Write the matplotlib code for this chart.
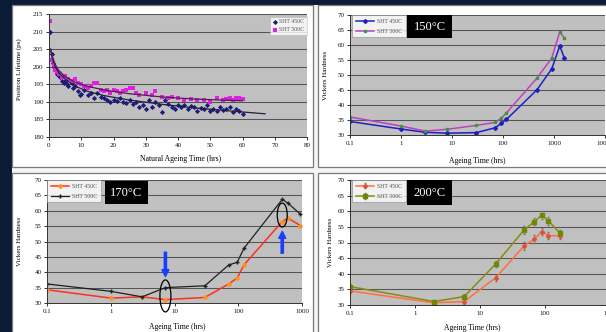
import numpy as np
import matplotlib
matplotlib.use("Agg")
import matplotlib.pyplot as plt
from matplotlib.patches import Rectangle, Ellipse
from matplotlib.transforms import ScaledTranslation
from matplotlib.ticker import NullLocator

W, H = 606, 332
plt.rcParams['font.family'] = ['Liberation Serif', 'DejaVu Serif']

# ---- natural ageing (positron lifetime) ----
na450_t = [0.3, 0.8, 1.2, 1.6, 2.0, 2.5, 3.0, 3.5, 4.0, 4.5, 5.0, 5.5, 6.0, 7.0, 7.5,
           8.0, 9.0, 9.5, 10.0, 11.0, 12.0, 13.0, 14.0, 15.0, 16.0, 17.0, 18.0, 19.0,
           20.0, 21.0, 22.0, 23.0, 24.0, 25.0, 26.0, 27.0, 28.0, 29.0, 30.0, 31.0, 32.0,
           33.0, 34.0, 35.0, 36.0, 37.0, 38.0, 39.0, 40.0, 41.0, 42.0, 43.0, 44.0, 45.0,
           46.0, 47.0, 48.0, 49.0, 50.0, 51.0, 52.0, 53.0, 54.0, 55.0, 56.0, 57.0, 58.0,
           59.0, 60.0]
na450_tau = [210.0, 203.5, 201.0, 200.0, 199.0, 198.0, 197.5, 197.0, 196.0, 195.5, 196.0,
             195.0, 194.5, 195.5, 194.0, 194.5, 193.0, 192.0, 192.2, 193.5, 192.0, 192.5,
             191.0, 192.5, 191.5, 191.0, 190.5, 190.0, 190.5, 190.2, 191.0, 190.0, 189.8,
             190.5, 189.5, 190.0, 188.5, 189.0, 188.0, 190.5, 188.5, 190.0, 189.0, 187.0,
             190.5, 189.5, 188.5, 188.0, 189.0, 188.5, 189.2, 188.0, 188.8, 188.5, 187.5,
             188.2, 188.0, 189.0, 187.5, 188.0, 187.5, 188.5, 187.8, 188.0, 188.5, 187.0,
             188.0, 187.5, 186.5]
na500_t = [0.3, 1.0, 1.5, 2.0, 2.5, 3.0, 4.0, 5.0, 6.0, 7.0, 8.0, 9.0, 10.0, 11.0, 12.0,
           13.0, 14.0, 15.0, 16.0, 17.0, 18.0, 19.0, 20.0, 21.0, 22.0, 23.0, 24.0, 25.0,
           26.0, 27.0, 28.0, 30.0, 32.0, 33.0, 35.0, 37.0, 38.0, 40.0, 42.0, 44.0, 46.0,
           48.0, 50.0, 52.0, 54.0, 55.0, 56.0, 57.0, 58.0, 59.0, 60.0]
na500_tau = [213.0, 202.0, 200.5, 199.0, 198.5, 198.0, 197.0, 197.5, 196.5, 196.0, 196.5,
             195.5, 195.0, 194.5, 194.0, 194.5, 195.3, 195.3, 193.5, 193.0, 193.5, 192.5,
             193.5, 193.0, 192.5, 193.0, 193.5, 194.0, 194.0, 192.5, 192.0, 192.5, 192.0,
             193.0, 191.5, 191.0, 191.5, 191.0, 190.5, 190.8, 190.5, 190.5, 190.0, 191.0,
             190.5, 190.8, 191.0, 190.5, 191.0, 191.2, 190.8]
fit450_t = [0.5, 1, 2, 3, 5, 8, 12, 17, 25, 35, 45, 55, 67]
fit450_tau = [205.0, 202.5, 200.0, 198.3, 196.5, 194.5, 193.0, 191.8, 190.5, 189.3, 188.3, 187.5, 186.6]
fit500_t = [0.5, 1, 2, 3, 5, 8, 12, 17, 25, 35, 45, 60]
fit500_tau = [205.0, 203.0, 200.5, 199.0, 197.2, 195.6, 194.4, 193.4, 192.3, 191.4, 190.8, 190.3]

# ---- 150C ageing ----
t150 = [0.1, 1, 3, 8, 30, 70, 93, 117, 460, 900, 1300, 1600]
hv150_450 = [34.5, 32.0, 30.9, 30.6, 30.8, 32.4, 33.9, 35.2, 45.0, 52.0, 59.7, 55.6]
hv150_500 = [36.0, 33.0, 31.3, 31.9, 33.2, 34.2, 35.6, 37.4, 48.9, 55.6, 64.4, 62.2]

# ---- 170C ageing ----
t170 = [0.1, 1, 3.1, 7.2, 30, 71, 96, 123, 490, 600, 940]
hv170_450 = [34.3, 31.6, 32.0, 31.1, 31.8, 36.2, 38.1, 42.4, 56.5, 57.6, 55.2]
hv170_500 = [36.2, 33.8, 32.0, 35.0, 35.6, 42.4, 43.2, 47.8, 63.7, 62.5, 58.9]

# ---- 200C ageing ----
t200 = [0.1, 1.96, 5.7, 17.4, 47.6, 68.6, 89, 113, 170]
hv200_450 = [34.5, 30.7, 31.1, 38.7, 48.9, 51.1, 53.5, 52.2, 52.1]
hv200_500 = [35.9, 31.1, 32.7, 43.1, 54.0, 56.7, 58.8, 56.9, 53.0]
err200 = [0.8, 0.5, 0.8, 1.0, 1.2, 1.2, 1.2, 1.2, 1.0]

labels = ['SHT 450C', 'SHT 500C']
hv_ticks = [30, 35, 40, 45, 50, 55, 60, 65, 70]
tau_ticks = [180, 185, 190, 195, 200, 205, 210, 215]

fig = plt.figure(figsize=(W / 100, H / 100), dpi=100, facecolor='#0b1d36')


def box(l, t, r, b, **kw):
    fig.patches.append(Rectangle((l / W, 1 - b / H), (r - l) / W, (b - t) / H,
                                 transform=fig.transFigure, **kw))


def axes_px(l, t, r, b):
    return fig.add_axes([l / W, 1 - b / H, (r - l) / W, (b - t) / H])


def style(ax, yticks):
    ax.set_facecolor('#c0c0c0')
    ax.set_ylim(yticks[0], yticks[-1])
    ax.set_yticks(yticks)
    ax.grid(axis='y', color='#555555', lw=0.75)
    ax.set_axisbelow(True)
    for s in ['top', 'right']:
        ax.spines[s].set_visible(False)
    for s in ['left', 'bottom']:
        ax.spines[s].set_color('#333333')
        ax.spines[s].set_linewidth(0.7)
    ax.tick_params(labelsize=5, length=2, width=0.6, pad=2, colors='#111111')


def log_x(ax, ticks):
    ax.set_xscale('log')
    ax.set_xlim(ticks[0], ticks[-1])
    ax.set_xticks(ticks, [('%g' % v) for v in ticks])
    ax.xaxis.set_minor_locator(NullLocator())


def temp_label(text, l, t, r, b):
    box(l, t, r, b, facecolor='black', edgecolor='none', zorder=3)
    fig.text((l + r) / 2 / W, 1 - (t + b) / 2 / H, text, color='white', fontsize=9,
             ha='center', va='center', zorder=4)


def legend(ax, l, t):
    lg = ax.legend(loc='upper left', bbox_to_anchor=(l / W, 1 - t / H),
                   bbox_transform=fig.transFigure, fontsize=4.2, frameon=True,
                   fancybox=False, edgecolor='#888888', handlelength=3.2,
                   labelspacing=0.9, borderpad=0.6, handletextpad=0.5,
                   borderaxespad=0)
    lg.get_frame().set_linewidth(0.5)
    for txt in lg.get_texts():
        txt.set_color('#555555')
    return lg


# white canvas and panel frames
box(12, 5, 620, 340, facecolor='#f4f4f4', edgecolor='none', zorder=-1)
for l, t, r, b in [(12, 5, 313, 167), (318, 5, 620, 167), (12, 173, 313, 340), (318, 173, 620, 340)]:
    box(l, t, r, b, facecolor='white', edgecolor='#7a7a7a', lw=0.9, zorder=-0.5)

# ---- panel 1: positron lifetime ----
ax1 = axes_px(49, 14, 307, 137)
style(ax1, tau_ticks)
ax1.set_xlim(0, 80)
ax1.set_xticks(range(0, 81, 10))
ax1.scatter(na450_t, na450_tau, s=7, color='#1c1c7a', marker='D', lw=0, label=labels[0])
ax1.scatter(na500_t, na500_tau, s=7, color='#e020e0', marker='s', lw=0, label=labels[1])
ax1.plot(fit450_t, fit450_tau, color='#202040', lw=0.9)
ax1.plot(fit500_t, fit500_tau, color='#502050', lw=0.9)
ax1.set_ylabel('Positron Lifetime (ps)', fontsize=5)
ax1.set_xlabel('Natural Ageing Time (hrs)', fontsize=5.5)
ax1.yaxis.set_label_coords(-0.105, 0.55)
ax1.xaxis.set_label_coords(0.51, -0.15)
lg = ax1.legend(loc='upper right', bbox_to_anchor=(307 / W, 1 - 17 / H),
                bbox_transform=fig.transFigure, fontsize=4.2, fancybox=False,
                edgecolor='#aaaaaa', handletextpad=0.2, borderpad=0.4, borderaxespad=0,
                labelspacing=0.5, handlelength=1)
lg.get_frame().set_linewidth(0.4)
for txt in lg.get_texts():
    txt.set_color('#555555')

# ---- panel 2: 150C ----
ax2 = axes_px(350, 15, 605, 135)
style(ax2, hv_ticks)
log_x(ax2, [0.1, 1, 10, 100, 1000, 10000])
ax2.plot(t150, hv150_450, color='#2020c0', lw=1.1, marker='D', ms=2, mfc='#2020c0',
         mec='#2020c0', label=labels[0])
ax2.plot(t150, hv150_500, color='#c040c0', lw=1.1, marker='s', ms=2, mfc='#30a030',
         mec='#30a030', label=labels[1])
ax2.set_ylabel('Vickers Hardness', fontsize=5)
ax2.set_xlabel('Ageing Time (hrs)', fontsize=5.5)
ax2.yaxis.set_label_coords(-0.085, 0.5)
ax2.xaxis.set_label_coords(0.5, -0.18)
legend(ax2, 352, 15)
temp_label('150°C', 407, 15, 452, 38)

# ---- panel 3: 170C ----
ax3 = axes_px(47, 180, 302, 303)
style(ax3, hv_ticks)
log_x(ax3, [0.1, 1, 10, 100, 1000])
ax3.plot(t170, hv170_450, color='#ff3020', lw=1.1, marker='D', ms=2, mfc='#ff9020',
         mec='#ff9020', label=labels[0])
ax3.plot(t170, hv170_500, color='#202020', lw=0.9, marker='+', ms=3, mec='#202020',
         label=labels[1])
ax3.set_ylabel('Vickers Hardness', fontsize=5)
ax3.set_xlabel('Ageing Time (hrs)', fontsize=5.5)
ax3.yaxis.set_label_coords(-0.098, 0.5)
ax3.xaxis.set_label_coords(0.51, -0.16)
legend(ax3, 47, 180)
temp_label('170°C', 105, 181, 148, 204)

# circled points and arrows
for tx, hy, w, h in [(7.2, 32.3, 0.11, 0.32), (490, 58.6, 0.10, 0.24)]:
    tr = fig.dpi_scale_trans + ScaledTranslation(tx, hy, ax3.transData)
    ax3.add_patch(Ellipse((0, 0), w, h, transform=tr, fill=False, ec='black',
                          lw=0.9, clip_on=False, zorder=5))
arrow = dict(facecolor='#1a3cff', edgecolor='#1a3cff', width=1.6, headwidth=5,
             headlength=5)
ax3.annotate('', xy=(7.2, 38.6), xytext=(7.2, 46.5), arrowprops=arrow)
ax3.annotate('', xy=(490, 53.3), xytext=(490, 46.2), arrowprops=arrow)

# ---- panel 4: 200C ----
ax4 = axes_px(350, 180, 610, 305)
style(ax4, hv_ticks)
log_x(ax4, [0.1, 1, 10, 100, 1000])
ax4.errorbar(t200, hv200_450, yerr=err200, color='#ff7040', lw=1.1, marker='D', ms=2,
             mfc='#e05030', mec='#e05030', ecolor='#777777', elinewidth=0.5,
             capsize=1, label=labels[0])
ax4.errorbar(t200, hv200_500, yerr=err200, color='#8a8a10', lw=1.1, marker='s', ms=2.2,
             mfc='#6a8a00', mec='#6a8a00', ecolor='#777777', elinewidth=0.5,
             capsize=1, label=labels[1])
ax4.set_ylabel('Vickers Hardness', fontsize=5)
ax4.set_xlabel('Ageing Time (hrs)', fontsize=5.5)
ax4.yaxis.set_label_coords(-0.065, 0.5)
ax4.xaxis.set_label_coords(0.47, -0.155)
legend(ax4, 352, 180)
temp_label('200°C', 407, 180, 452, 205)

fig.savefig('out.png', dpi=100, facecolor=fig.get_facecolor())
